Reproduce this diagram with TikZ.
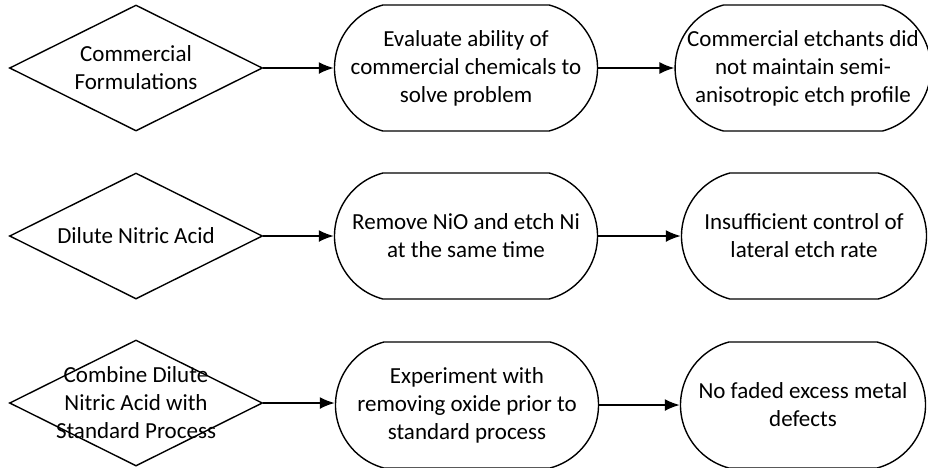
\documentclass[tikz,border=0pt]{standalone}
\usepackage{fontspec}
\setmainfont{Carlito}
\usetikzlibrary{shapes.geometric,shapes.misc,arrows.meta}

\begin{document}
\begin{tikzpicture}[x=1pt,y=-1pt,
		font=\fontsize{23}{28}\selectfont,
		choice/.style={draw,diamond,minimum width=253pt,minimum height=126pt,inner sep=0pt,line width=1.4pt},
		task/.style={draw,rounded rectangle,rounded rectangle arc length=150,minimum width=263pt,minimum height=126pt,inner sep=0pt,align=center,line width=1.4pt},
		result/.style={task,minimum width=245pt},
		flow/.style={-{Latex[length=15pt,width=12pt]},line width=1.8pt}]
		\useasboundingbox (0,0) rectangle (928,467);
		% first row: commercial etchants
		\node[choice] (opt1) at (136,68) {};
		\node[align=center] (opt1txt) at (opt1) {Commercial\\Formulations};
		\node[task] (test1) at (466,68) {Evaluate ability of\\commercial chemicals to\\solve problem};
		\node[result] (res1) at (803,68) {Commercial etchants did\\not maintain semi-\\anisotropic etch profile};
		% second row: dilute nitric acid
		\node[choice] (opt2) at (136,236) {};
		\node[align=center] (opt2txt) at (opt2) {Dilute Nitric Acid};
		\node[task] (test2) at (466,236) {Remove NiO and etch Ni\\at the same time};
		\node[result] (res2) at (804,236) {Insufficient control of\\lateral etch rate};
		% third row: combined process
		\node[choice] (opt3) at (136,403) {};
		\node[align=center] (opt3txt) at (opt3) {Combine Dilute\\Nitric Acid with\\Standard Process};
		\node[task] (test3) at (467,405) {Experiment with\\removing oxide prior to\\standard process};
		\node[result] (res3) at (803,405) {No faded excess metal\\defects};
		% arrows
		\draw[flow] (opt1) -- (test1);
		\draw[flow] (test1) -- (res1);
		\draw[flow] (opt2) -- (test2);
		\draw[flow] (test2) -- (res2);
		\draw[flow] (opt3.east) -- (test3.west |- opt3.east);
		\draw[flow] (test3) -- (res3);
	\end{tikzpicture}
\end{document}
